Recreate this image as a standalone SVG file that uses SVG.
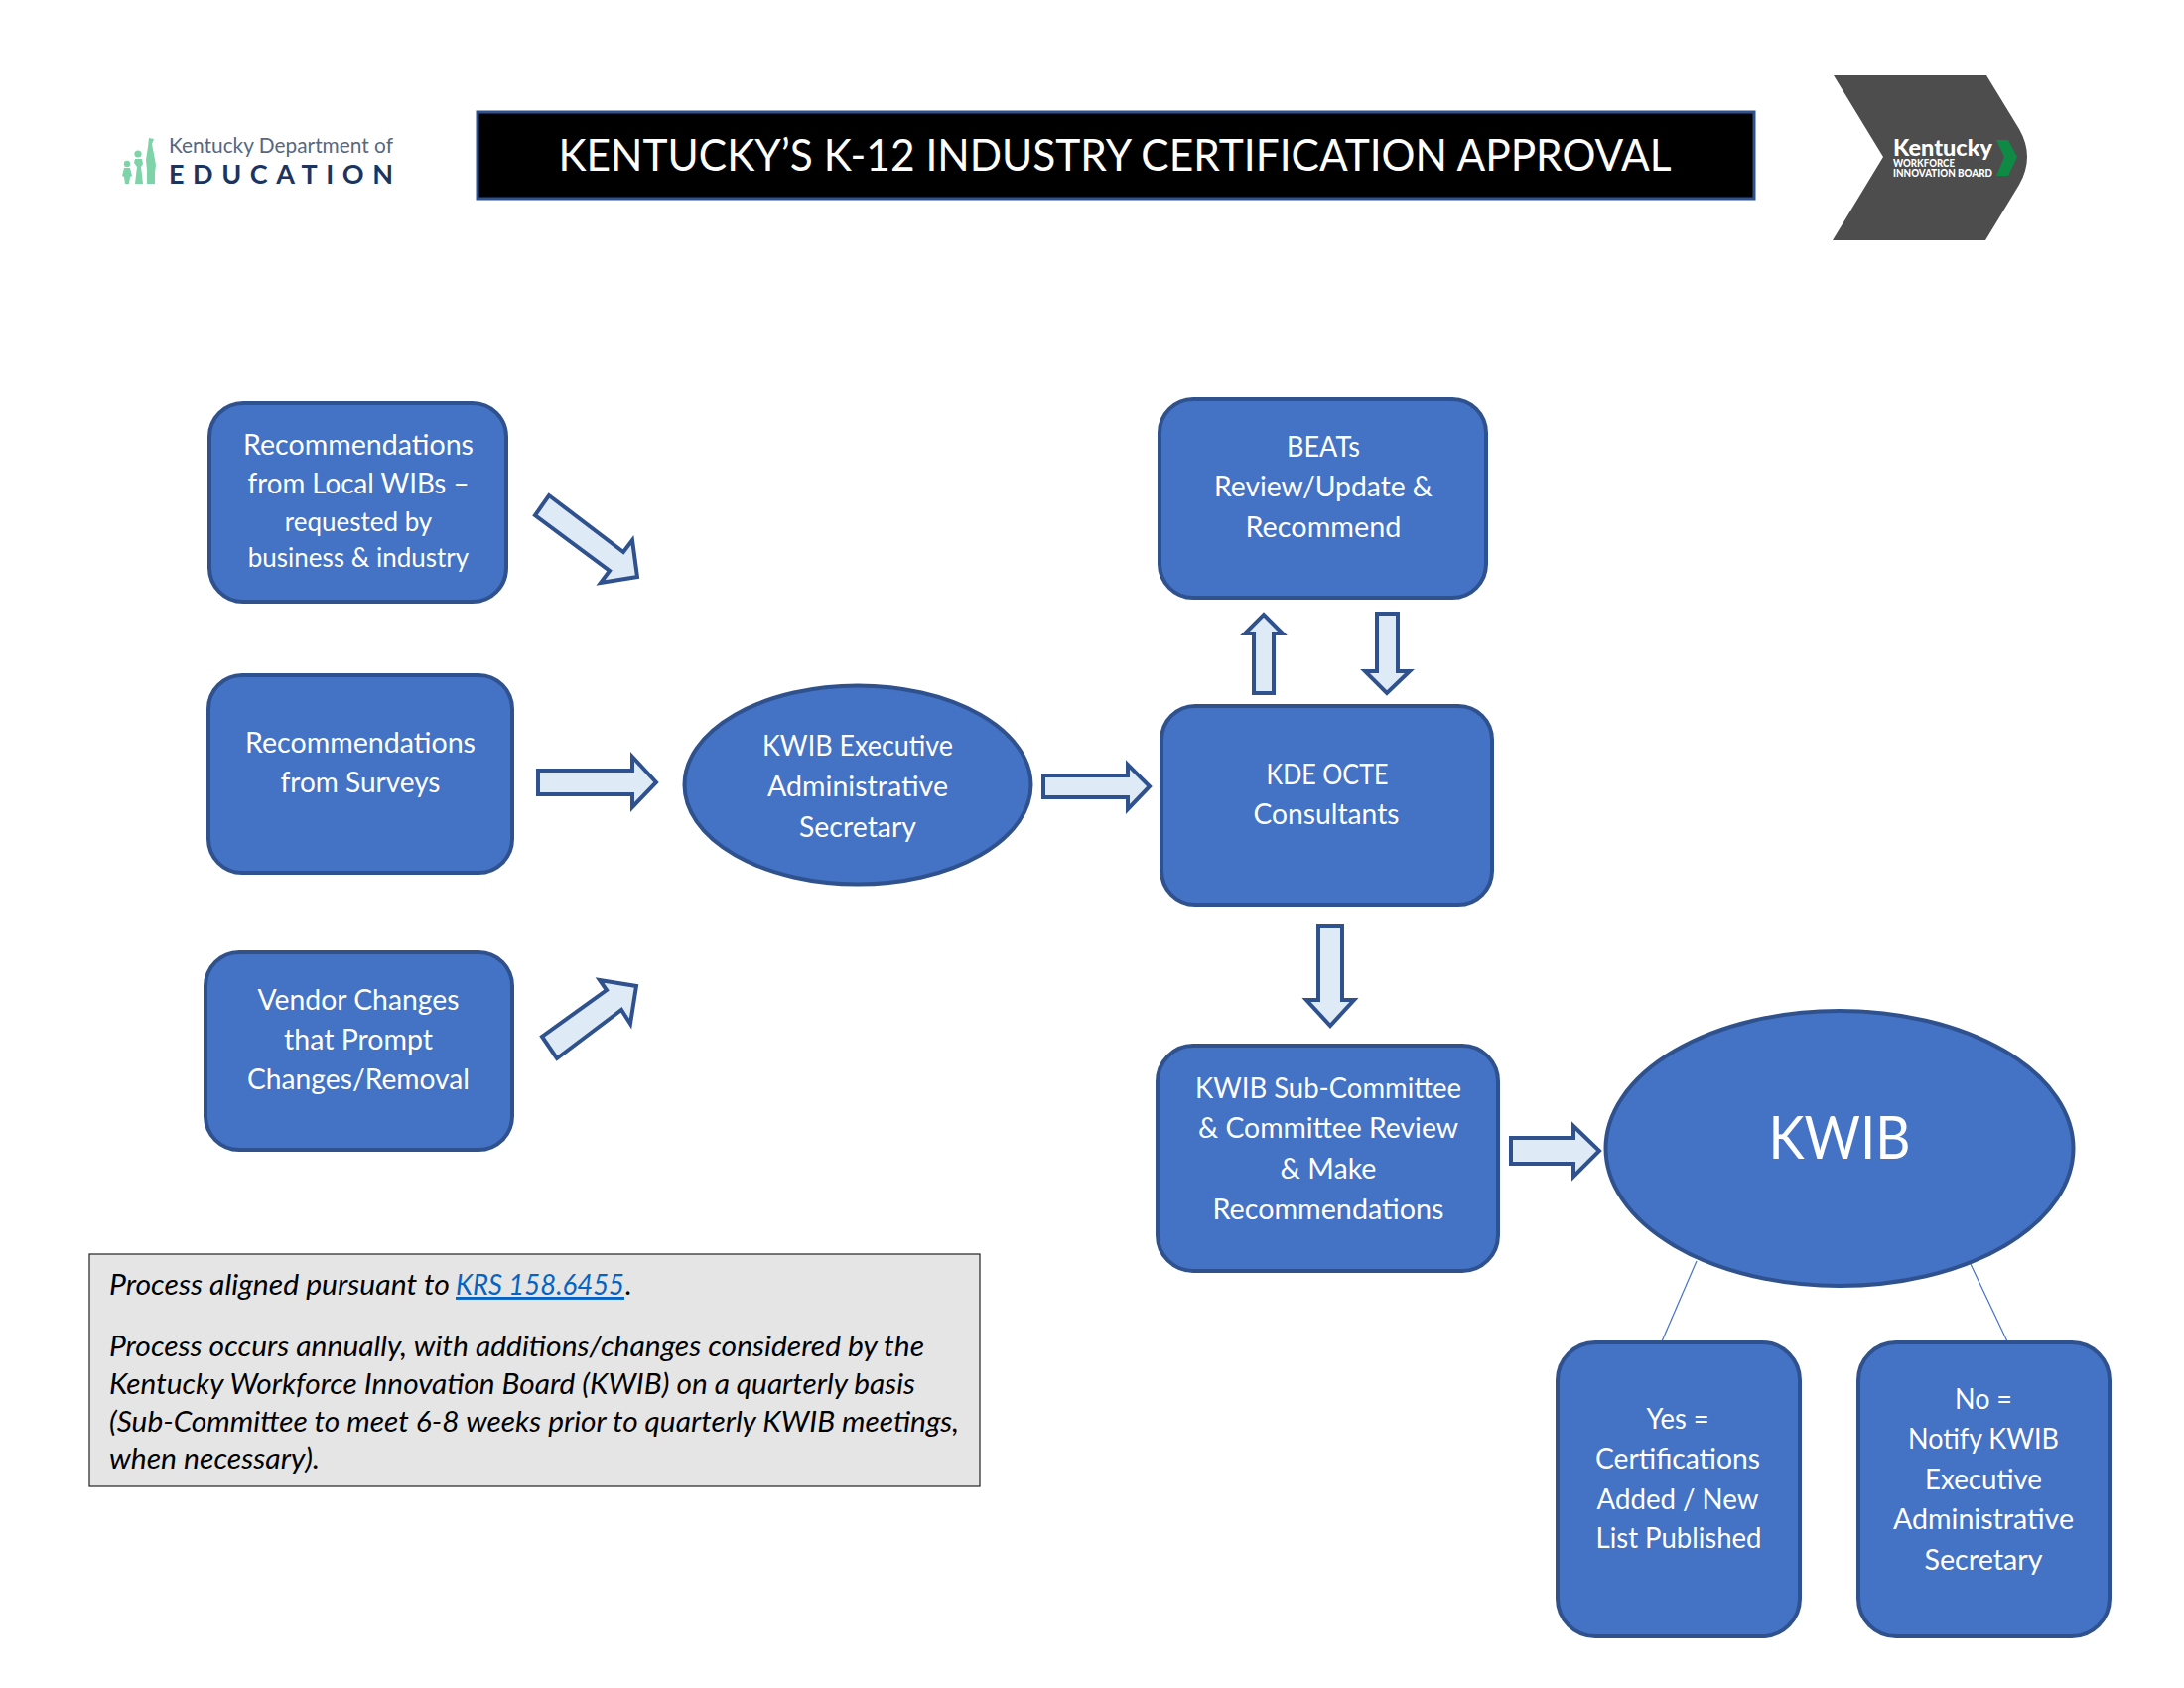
<svg xmlns="http://www.w3.org/2000/svg" width="2200" height="1700" viewBox="0 0 2200 1700">
<style>
text{font-family:"Lato","Noto Sans","Liberation Sans",sans-serif}
.n{fill:#4472C4;stroke:#2F528F;stroke-width:4}
.a{fill:#DEEAF6;stroke:#2F528F;stroke-width:4;stroke-linejoin:miter}
.t{fill:#fff;font-size:29px;text-anchor:middle}
.s{font-size:26px}
.c{stroke:#4472C4;stroke-width:1.2;fill:none}
.note{font-size:29px;font-style:italic;fill:#000}
.link{fill:#0563C1;text-decoration:underline}
</style>
<rect width="2200" height="1700" fill="#fff"/>
<g id="logo-kde">
<g fill="#7FD3A8">
<circle cx="128" cy="165" r="3.2"/><path d="M125 169h6l2 8-2 1-1 7h-4l-1-7-2-1z"/>
<circle cx="139" cy="155" r="3.6"/><path d="M136 160h7l1 5-2 3 1 8 1 9h-8l1-9 1-8-3-4z"/>
<path d="M150 139l5 1-2 5 1 5 3 16-1 8v11h-8v-14l-1-10 2-13z"/>
</g>
<text x="170" y="154" font-size="21.5" fill="#56677F" textLength="226" lengthAdjust="spacingAndGlyphs">Kentucky Department of</text>
<text x="170" y="185" font-size="27" font-weight="700" fill="#1B3560" textLength="226">EDUCATION</text>
</g>
<g id="title">
<rect x="481" y="113" width="1286" height="87" fill="#000" stroke="#2F528F" stroke-width="3"/>
<text x="1123" y="172" font-size="44" fill="#fff" text-anchor="middle" textLength="1121" lengthAdjust="spacingAndGlyphs">KENTUCKY’S K-12 INDUSTRY CERTIFICATION APPROVAL</text>
</g>
<g id="logo-kwib">
<path d="M1847 76H2001L2034 130Q2050 158 2034 186L2000 242H1846L1897 158Z" fill="#4D4D4D"/>
<path d="M2011 141H2023L2032 158L2023 177H2011L2019 158Z" fill="#0E8A45"/>
<text x="1907" y="157" font-size="23" font-weight="900" fill="#fff" textLength="100" lengthAdjust="spacingAndGlyphs">Kentucky</text>
<text x="1907" y="168" font-size="10.5" font-weight="900" fill="#fff" textLength="62" lengthAdjust="spacingAndGlyphs">WORKFORCE</text>
<text x="1907" y="178" font-size="10.5" font-weight="900" fill="#fff" textLength="100" lengthAdjust="spacingAndGlyphs">INNOVATION BOARD</text>
</g>
<g id="connectors">
<polygon class="a" points="553,499 628,556 637,544 642,581 605,587 614,575 539,519"/>
<polygon class="a" points="542,776 637,776 637,762 661,788 637,813 637,800 542,800"/>
<polygon class="a" points="604,987 641,993 635,1031 626,1017 561,1066 546,1044 611,997"/>
<polygon class="a" points="1051,781 1136,781 1136,770 1158,792 1136,815 1136,803 1051,803"/>
<polygon class="a" points="1263,698 1263,638 1254,638 1273,619 1292,638 1283,638 1283,698"/>
<polygon class="a" points="1387,618 1408,618 1408,676 1420,676 1397,698 1375,676 1387,676"/>
<polygon class="a" points="1328,933 1352,933 1352,1007 1364,1007 1340,1033 1316,1007 1328,1007"/>
<polygon class="a" points="1522,1146 1585,1146 1585,1134 1611,1159 1585,1185 1585,1172 1522,1172"/>
<line class="c" x1="1709" y1="1270" x2="1674" y2="1351"/>
<line class="c" x1="1985" y1="1273" x2="2022" y2="1351"/>
</g>
<g id="n1">
<rect class="n" x="211" y="406" width="299" height="200" rx="34"/>
<text class="t" x="361" y="458" textLength="232" lengthAdjust="spacingAndGlyphs">Recommendations</text>
<text class="t" x="361" y="497" textLength="223" lengthAdjust="spacingAndGlyphs">from Local WIBs –</text>
<text class="t s" x="361" y="535">requested by</text>
<text class="t s" x="361" y="571">business &amp; industry</text>
</g>
<g id="n2">
<rect class="n" x="210" y="680" width="306" height="199" rx="34"/>
<text class="t" x="363" y="758" textLength="232" lengthAdjust="spacingAndGlyphs">Recommendations</text>
<text class="t" x="363" y="798" textLength="161" lengthAdjust="spacingAndGlyphs">from Surveys</text>
</g>
<g id="n3">
<rect class="n" x="207" y="959" width="309" height="199" rx="34"/>
<text class="t" x="361" y="1017" textLength="203" lengthAdjust="spacingAndGlyphs">Vendor Changes</text>
<text class="t" x="361" y="1057" textLength="150" lengthAdjust="spacingAndGlyphs">that Prompt</text>
<text class="t" x="361" y="1097" textLength="224" lengthAdjust="spacingAndGlyphs">Changes/Removal</text>
</g>
<g id="n4">
<ellipse class="n" cx="864" cy="790.500" rx="174.500" ry="100"/>
<text class="t" x="864" y="761" textLength="192" lengthAdjust="spacingAndGlyphs">KWIB Executive</text>
<text class="t" x="864" y="802" textLength="182" lengthAdjust="spacingAndGlyphs">Administrative</text>
<text class="t" x="864" y="843" textLength="118" lengthAdjust="spacingAndGlyphs">Secretary</text>
</g>
<g id="n5">
<rect class="n" x="1168" y="402" width="329" height="200" rx="34"/>
<text class="t" x="1333" y="460" textLength="74" lengthAdjust="spacingAndGlyphs">BEATs</text>
<text class="t" x="1333" y="500" textLength="220" lengthAdjust="spacingAndGlyphs">Review/Update &amp;</text>
<text class="t" x="1333" y="541" textLength="157" lengthAdjust="spacingAndGlyphs">Recommend</text>
</g>
<g id="n6">
<rect class="n" x="1170" y="711" width="333" height="200" rx="34"/>
<text class="t" x="1337" y="790" textLength="123" lengthAdjust="spacingAndGlyphs">KDE OCTE</text>
<text class="t" x="1336" y="830" textLength="147" lengthAdjust="spacingAndGlyphs">Consultants</text>
</g>
<g id="n7">
<rect class="n" x="1166" y="1053" width="343" height="227" rx="36"/>
<text class="t" x="1338" y="1106" textLength="268" lengthAdjust="spacingAndGlyphs">KWIB Sub-Committee</text>
<text class="t" x="1338" y="1146" textLength="262" lengthAdjust="spacingAndGlyphs">&amp; Committee Review</text>
<text class="t" x="1338" y="1187" textLength="97" lengthAdjust="spacingAndGlyphs">&amp; Make</text>
<text class="t" x="1338" y="1228" textLength="233" lengthAdjust="spacingAndGlyphs">Recommendations</text>
</g>
<g id="n8">
<ellipse class="n" cx="1853" cy="1156.500" rx="235.500" ry="138.500"/>
<text class="t" x="1853" y="1167" style="font-size:60px" textLength="143" lengthAdjust="spacingAndGlyphs">KWIB</text>
</g>
<g id="n9">
<rect class="n" x="1569" y="1352" width="244" height="296" rx="38"/>
<text class="t" x="1690" y="1439" textLength="63" lengthAdjust="spacingAndGlyphs">Yes =</text>
<text class="t" x="1690" y="1479" textLength="166" lengthAdjust="spacingAndGlyphs">Certifications</text>
<text class="t" x="1690" y="1520" textLength="163" lengthAdjust="spacingAndGlyphs">Added / New</text>
<text class="t" x="1691" y="1559" textLength="167" lengthAdjust="spacingAndGlyphs">List Published</text>
</g>
<g id="n10">
<rect class="n" x="1872" y="1352" width="253" height="296" rx="38"/>
<text class="t" x="1998" y="1419" textLength="58" lengthAdjust="spacingAndGlyphs">No =</text>
<text class="t" x="1998" y="1459" textLength="152" lengthAdjust="spacingAndGlyphs">Notify KWIB</text>
<text class="t" x="1998" y="1500" textLength="118" lengthAdjust="spacingAndGlyphs">Executive</text>
<text class="t" x="1998" y="1540" textLength="182" lengthAdjust="spacingAndGlyphs">Administrative</text>
<text class="t" x="1998" y="1581" textLength="119" lengthAdjust="spacingAndGlyphs">Secretary</text>
</g>
<g id="note">
<rect x="90" y="1263" width="897" height="234" fill="#E5E5E5" stroke="#222" stroke-width="1.2"/>
<text class="note" x="110" y="1304"><tspan textLength="343" lengthAdjust="spacingAndGlyphs">Process aligned pursuant to</tspan><tspan class="link" x="459" textLength="170" lengthAdjust="spacingAndGlyphs">KRS 158.6455</tspan><tspan x="630">.</tspan></text>
<text class="note" x="110" y="1366" textLength="821" lengthAdjust="spacingAndGlyphs">Process occurs annually, with additions/changes considered by the</text>
<text class="note" x="110" y="1404" textLength="812" lengthAdjust="spacingAndGlyphs">Kentucky Workforce Innovation Board (KWIB) on a quarterly basis</text>
<text class="note" x="110" y="1442" textLength="856" lengthAdjust="spacingAndGlyphs">(Sub-Committee to meet 6-8 weeks prior to quarterly KWIB meetings,</text>
<text class="note" x="110" y="1479" textLength="212" lengthAdjust="spacingAndGlyphs">when necessary).</text>
</g>
</svg>
